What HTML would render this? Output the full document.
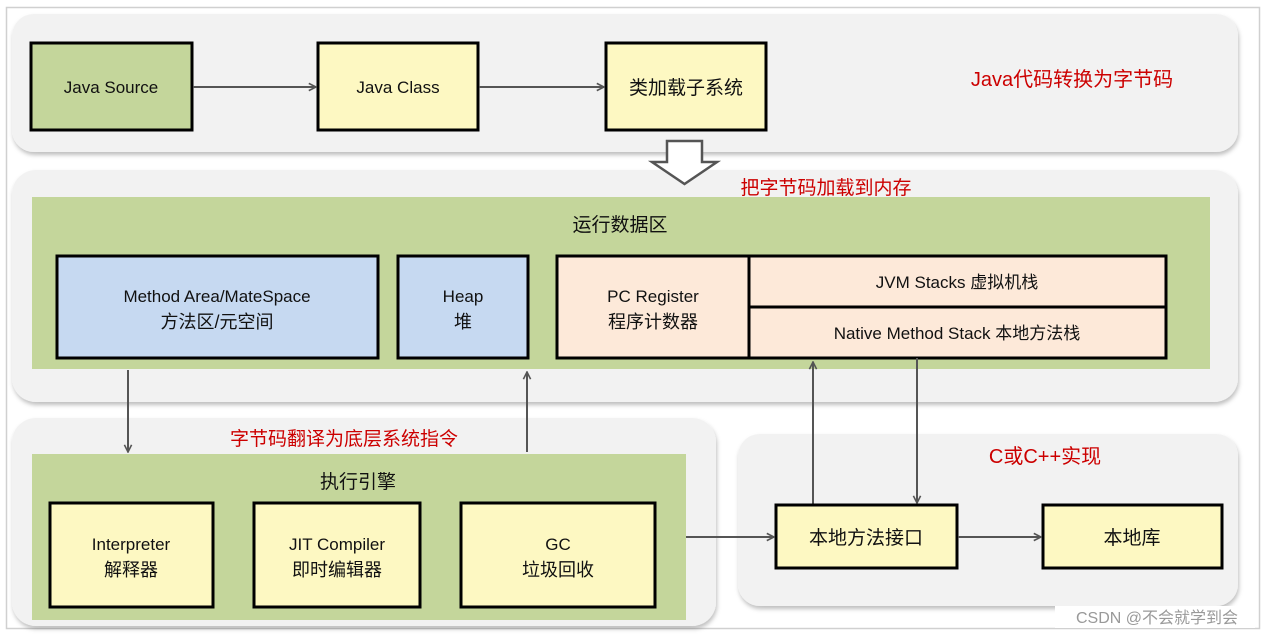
<!DOCTYPE html>
<html><head><meta charset="utf-8"><style>
html,body{margin:0;padding:0;background:#fff;width:1268px;height:636px;overflow:hidden}
text{font-family:"Liberation Sans","Noto Sans CJK SC",sans-serif;fill:#111}
.r{fill:#cc0000}
</style></head><body>
<svg width="1268" height="636" viewBox="0 0 1268 636" xmlns="http://www.w3.org/2000/svg">
<defs>
<filter id="sh" x="-5%" y="-5%" width="110%" height="115%"><feDropShadow dx="1" dy="3" stdDeviation="2" flood-color="#000" flood-opacity="0.25"/></filter>
<marker id="ah" viewBox="0 0 10 10" refX="9" refY="5" markerWidth="9" markerHeight="9" orient="auto" markerUnits="userSpaceOnUse"><path d="M1,1 L9,5 L1,9" fill="none" stroke="#555" stroke-width="1.8"/></marker>
</defs>
<rect x="6.5" y="7.5" width="1253" height="621" fill="#fff" stroke="#d0d0d0" stroke-width="1.5"/>
<!-- panels -->
<rect x="12" y="14" width="1226" height="138" rx="22" fill="#f2f2f2" filter="url(#sh)"/>
<rect x="12" y="170" width="1226" height="232" rx="24" fill="#f2f2f2" filter="url(#sh)"/>
<rect x="12" y="418" width="704" height="208" rx="24" fill="#f2f2f2" filter="url(#sh)"/>
<rect x="738" y="434" width="500" height="172" rx="22" fill="#f2f2f2" filter="url(#sh)"/>
<!-- top row -->
<rect x="31" y="43" width="161" height="87" fill="#c4d69b" stroke="#000" stroke-width="3"/>
<text x="111" y="93" font-size="17" text-anchor="middle">Java Source</text>
<rect x="318" y="43" width="160" height="87" fill="#fdf8c2" stroke="#000" stroke-width="3"/>
<text x="398" y="93" font-size="17" text-anchor="middle">Java Class</text>
<rect x="606" y="43" width="160" height="87" fill="#fdf8c2" stroke="#000" stroke-width="3"/>
<text x="686" y="94" font-size="19" text-anchor="middle">类加载子系统</text>
<line x1="193" y1="87" x2="316" y2="87" stroke="#555" stroke-width="2" marker-end="url(#ah)"/>
<line x1="479" y1="87" x2="604" y2="87" stroke="#555" stroke-width="2" marker-end="url(#ah)"/>
<text x="1072" y="86" font-size="20" text-anchor="middle" class="r">Java代码转换为字节码</text>
<!-- hollow arrow -->
<path d="M667,141 L702,141 L702,162 L717,162 L684.5,184 L652,162 L667,162 Z" fill="#fff" stroke="#555" stroke-width="2.5"/>
<text x="826" y="194" font-size="19" text-anchor="middle" class="r">把字节码加载到内存</text>
<!-- runtime data area -->
<rect x="32" y="197" width="1178" height="172" fill="#c4d69b"/>
<text x="620" y="231" font-size="19" text-anchor="middle">运行数据区</text>
<rect x="57" y="256" width="321" height="102" fill="#c6d9f1" stroke="#000" stroke-width="3"/>
<text x="217" y="302" font-size="17" text-anchor="middle">Method Area/MateSpace</text>
<text x="217" y="328" font-size="18" text-anchor="middle">方法区/元空间</text>
<rect x="398" y="256" width="130" height="102" fill="#c6d9f1" stroke="#000" stroke-width="3"/>
<text x="463" y="302" font-size="17" text-anchor="middle">Heap</text>
<text x="463" y="328" font-size="18" text-anchor="middle">堆</text>
<rect x="557" y="256" width="192" height="102" fill="#fde9d9" stroke="#000" stroke-width="3"/>
<text x="653" y="302" font-size="17" text-anchor="middle">PC Register</text>
<text x="653" y="328" font-size="18" text-anchor="middle">程序计数器</text>
<rect x="749" y="256" width="417" height="51" fill="#fde9d9" stroke="#000" stroke-width="3"/>
<text x="957" y="288" font-size="17" text-anchor="middle">JVM Stacks 虚拟机栈</text>
<rect x="749" y="307" width="417" height="51" fill="#fde9d9" stroke="#000" stroke-width="3"/>
<text x="957" y="339" font-size="17" text-anchor="middle">Native Method Stack 本地方法栈</text>
<!-- vertical arrows -->
<line x1="128" y1="370" x2="128" y2="452" stroke="#555" stroke-width="2" marker-end="url(#ah)"/>
<line x1="527" y1="452" x2="527" y2="372" stroke="#555" stroke-width="2" marker-end="url(#ah)"/>
<line x1="813" y1="505" x2="813" y2="362" stroke="#555" stroke-width="2" marker-end="url(#ah)"/>
<line x1="917" y1="358" x2="917" y2="503" stroke="#555" stroke-width="2" marker-end="url(#ah)"/>
<text x="344" y="445" font-size="19" text-anchor="middle" class="r">字节码翻译为底层系统指令</text>
<!-- execution engine -->
<rect x="32" y="454" width="654" height="166" fill="#c4d69b"/>
<text x="358" y="488" font-size="19" text-anchor="middle">执行引擎</text>
<rect x="50" y="503" width="163" height="104" fill="#fdf8c2" stroke="#000" stroke-width="3"/>
<text x="131" y="550" font-size="17" text-anchor="middle">Interpreter</text>
<text x="131" y="576" font-size="18" text-anchor="middle">解释器</text>
<rect x="254" y="503" width="166" height="104" fill="#fdf8c2" stroke="#000" stroke-width="3"/>
<text x="337" y="550" font-size="17" text-anchor="middle">JIT Compiler</text>
<text x="337" y="576" font-size="18" text-anchor="middle">即时编辑器</text>
<rect x="461" y="503" width="194" height="104" fill="#fdf8c2" stroke="#000" stroke-width="3"/>
<text x="558" y="550" font-size="17" text-anchor="middle">GC</text>
<text x="558" y="576" font-size="18" text-anchor="middle">垃圾回收</text>
<!-- native -->
<text x="1045" y="463" font-size="20" text-anchor="middle" class="r">C或C++实现</text>
<rect x="776" y="505" width="181" height="63" fill="#fdf8c2" stroke="#000" stroke-width="3"/>
<text x="866" y="544" font-size="19" text-anchor="middle">本地方法接口</text>
<rect x="1043" y="505" width="179" height="63" fill="#fdf8c2" stroke="#000" stroke-width="3"/>
<text x="1132" y="544" font-size="19" text-anchor="middle">本地库</text>
<line x1="686" y1="537" x2="774" y2="537" stroke="#555" stroke-width="2" marker-end="url(#ah)"/>
<line x1="958" y1="537" x2="1041" y2="537" stroke="#555" stroke-width="2" marker-end="url(#ah)"/>
<rect x="1055" y="606" width="200" height="22" fill="#fff"/>
<text x="1157" y="623" font-size="16" text-anchor="middle" style="fill:#999">CSDN @不会就学到会</text>
</svg>
</body></html>
